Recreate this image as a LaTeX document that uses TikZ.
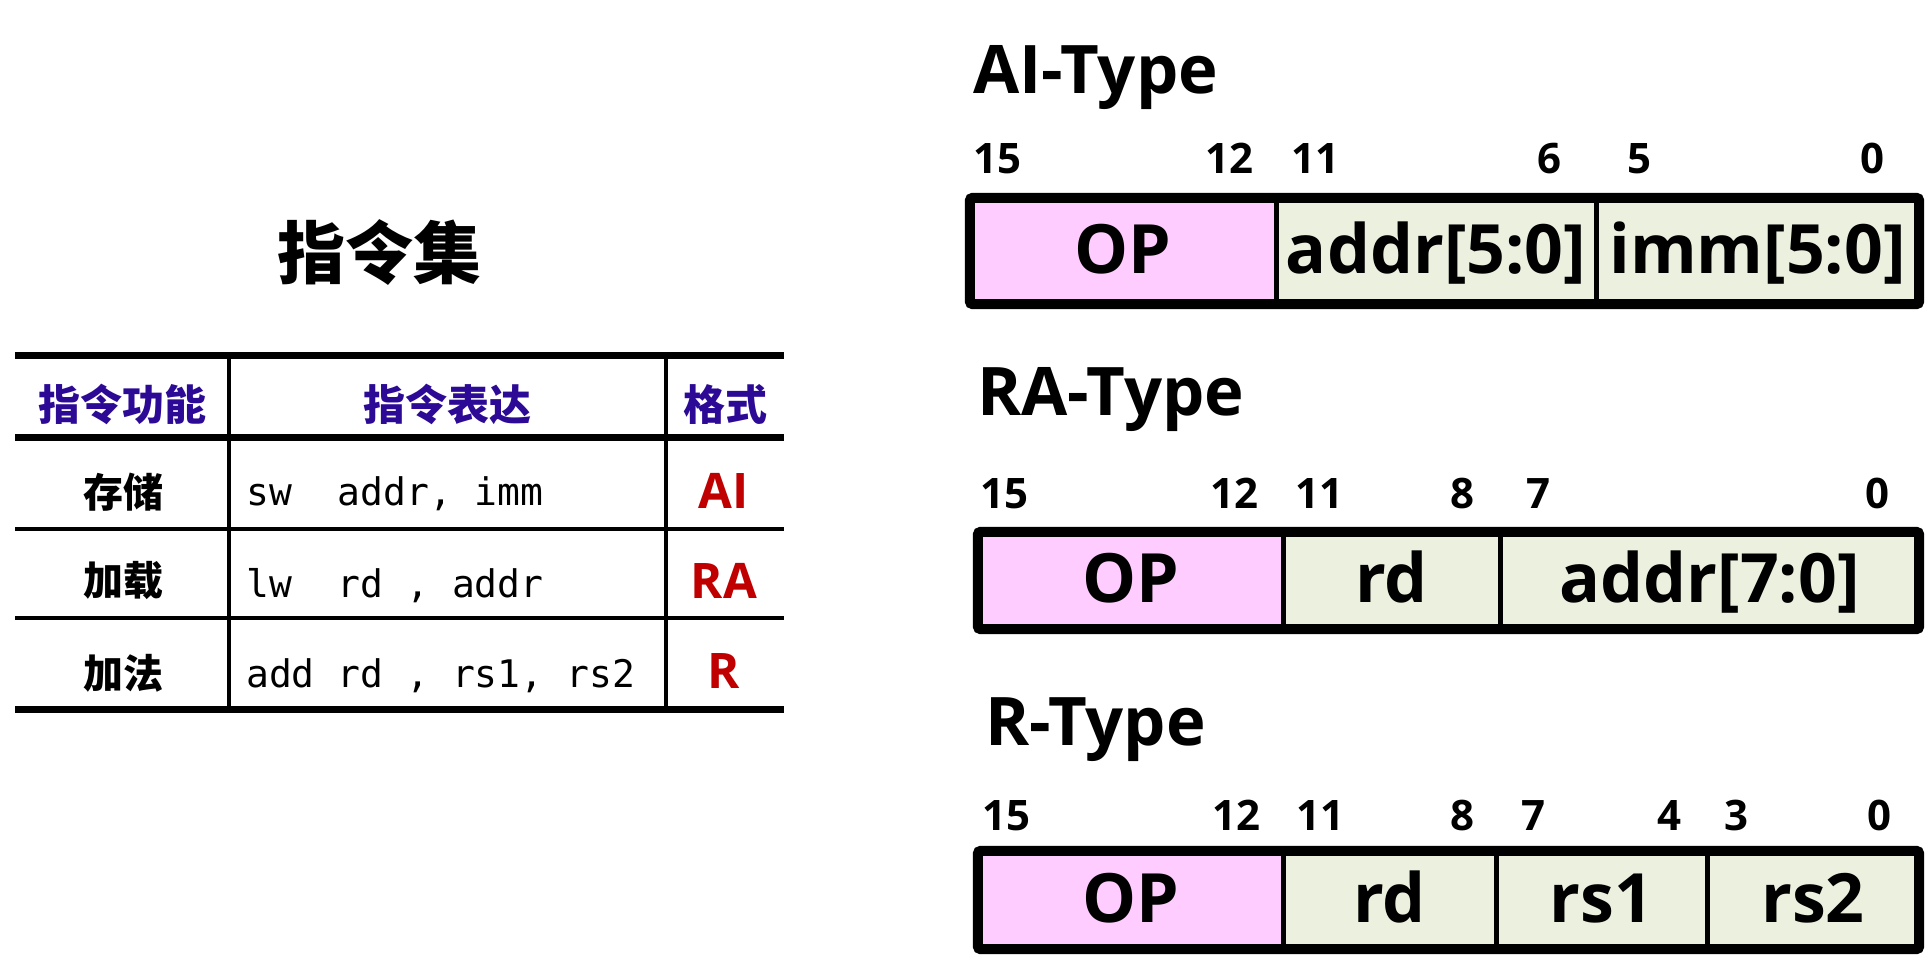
\documentclass[tikz,border=0pt]{standalone}
\usepackage{fontspec}
\newfontfamily\lat{Open Sans}
\newfontfamily\cjk{Noto Sans CJK SC}
\newfontfamily\mono{DejaVu Sans Mono}
\definecolor{hdr}{RGB}{44,10,150}
\definecolor{fmt}{RGB}{192,0,0}
\definecolor{oppink}{RGB}{255,204,255}
\definecolor{fld}{RGB}{235,241,222}
\tikzset{
  typetitle/.style={anchor=base west, inner sep=0pt, font=\lat\bfseries\fontsize{67}{70}\selectfont},
  bitnum/.style={anchor=base, inner sep=0pt, font=\lat\bfseries\fontsize{42}{44}\selectfont},
  fieldbox/.style={inner sep=0pt, text height=44pt, text depth=0pt, minimum height=106pt,
      font=\lat\bfseries\fontsize{68}{70}\selectfont},
  opfield/.style={fieldbox, fill=oppink},
  datafield/.style={fieldbox, fill=fld},
  outerframe/.style={line width=10pt, rounded corners=3pt},
  divider/.style={line width=5pt},
  thickrule/.style={line width=7pt},
  thinrule/.style={line width=4pt},
  hdrtext/.style={text=hdr, inner sep=0pt, font=\cjk\bfseries\fontsize{42}{44}\selectfont},
  rowlabel/.style={inner sep=0pt, font=\cjk\bfseries\fontsize{40}{42}\selectfont},
  codetext/.style={anchor=base west, inner sep=0pt, font=\mono\fontsize{38}{40}\selectfont},
  fmttext/.style={anchor=base, inner sep=0pt, text=fmt, font=\lat\bfseries\fontsize{49}{52}\selectfont},
}
\begin{document}
\begin{tikzpicture}[x=1pt,y=-1pt]
\useasboundingbox[fill=white] (0,0) rectangle (1931,961);

% ---------- left: instruction set table ----------
\node[inner sep=0pt, font=\cjk\bfseries\fontsize{68}{70}\selectfont] (settitle) at (379,253) {指令集};

\draw[thickrule] (15,355) -- (784,355);
\draw[thickrule] (15,437) -- (784,437);
\draw[thinrule] (15,529) -- (784,529);
\draw[thinrule] (15,618) -- (784,618);
\draw[thickrule] (15,709) -- (784,709);
\draw[thinrule] (229,355) -- (229,709);
\draw[thinrule] (666,355) -- (666,709);

\node[hdrtext] (h1) at (122,404) {指令功能};
\node[hdrtext] (h2) at (447,404) {指令表达};
\node[hdrtext] (h3) at (725,404) {格式};

\node[rowlabel] (r1) at (123,492) {存储};
\node[rowlabel] (r2) at (123,581) {加载};
\node[rowlabel] (r3) at (123,673) {加法};

\node[codetext] (c1) at (246,505) {sw\ \ addr,\ imm};
\node[codetext] (c2) at (246,597) {lw\ \ rd\ ,\ addr};
\node[codetext] (c3) at (246,687) {add\ rd\ ,\ rs1,\ rs2};

\node[fmttext] (f1) at (724,508) {AI};
\node[fmttext] (f2) at (724,598) {RA};
\node[fmttext] (f3) at (724,688) {R};

% ---------- AI-Type ----------
\node[typetitle] (aititle) at (973,93) {AI-Type};
\node[bitnum] (ab15) at (997,173) {15};
\node[bitnum] (ab12) at (1229,173) {12};
\node[bitnum] (ab11) at (1315,173) {11};
\node[bitnum] (ab6) at (1549,173) {6};
\node[bitnum] (ab5) at (1639,173) {5};
\node[bitnum] (ab0) at (1872,173) {0};
\node[opfield, minimum width=306pt] (aop) at (1123,251) {OP};
\node[datafield, minimum width=320pt] (aaddr) at (1436,251) {addr[5:0]};
\node[datafield, minimum width=323pt] (aimm) at (1757.5,251) {imm[5:0]};
\draw[divider] (aop.north east) -- (aop.south east);
\draw[divider] (aaddr.north east) -- (aaddr.south east);
\draw[outerframe] (aop.north west) rectangle (aimm.south east);

% ---------- RA-Type ----------
\node[typetitle] (ratitle) at (977,415) {RA-Type};
\node[bitnum] (rb15) at (1004,508) {15};
\node[bitnum] (rb12) at (1234,508) {12};
\node[bitnum] (rb11) at (1319,508) {11};
\node[bitnum] (rb8) at (1462,508) {8};
\node[bitnum] (rb7) at (1538,508) {7};
\node[bitnum] (rb0) at (1877,508) {0};
\node[opfield, minimum width=305pt, minimum height=97pt] (rop) at (1130.5,580.5) {OP};
\node[datafield, minimum width=217pt, minimum height=97pt] (rrd) at (1391.5,580.5) {rd};
\node[datafield, minimum width=419pt, minimum height=97pt] (raddr) at (1709.5,580.5) {addr[7:0]};
\draw[divider] (rop.north east) -- (rop.south east);
\draw[divider] (rrd.north east) -- (rrd.south east);
\draw[outerframe] (rop.north west) rectangle (raddr.south east);

% ---------- R-Type ----------
\node[typetitle] (rtitle) at (985,745) {R-Type};
\node[bitnum] (qb15) at (1006,830) {15};
\node[bitnum] (qb12) at (1236,830) {12};
\node[bitnum] (qb11) at (1320,830) {11};
\node[bitnum] (qb8) at (1462,830) {8};
\node[bitnum] (qb7) at (1533,830) {7};
\node[bitnum] (qb4) at (1669,830) {4};
\node[bitnum] (qb3) at (1736,830) {3};
\node[bitnum] (qb0) at (1879,830) {0};
\node[opfield, minimum width=305pt, minimum height=98pt] (qop) at (1130.5,900) {OP};
\node[datafield, minimum width=213pt, minimum height=98pt] (qrd) at (1389.5,900) {rd};
\node[datafield, minimum width=211pt, minimum height=98pt] (qrs1) at (1601.5,900) {rs1};
\node[datafield, minimum width=212pt, minimum height=98pt] (qrs2) at (1813,900) {rs2};
\draw[divider] (qop.north east) -- (qop.south east);
\draw[divider] (qrd.north east) -- (qrd.south east);
\draw[divider] (qrs1.north east) -- (qrs1.south east);
\draw[outerframe] (qop.north west) rectangle (qrs2.south east);
\end{tikzpicture}
\end{document}
